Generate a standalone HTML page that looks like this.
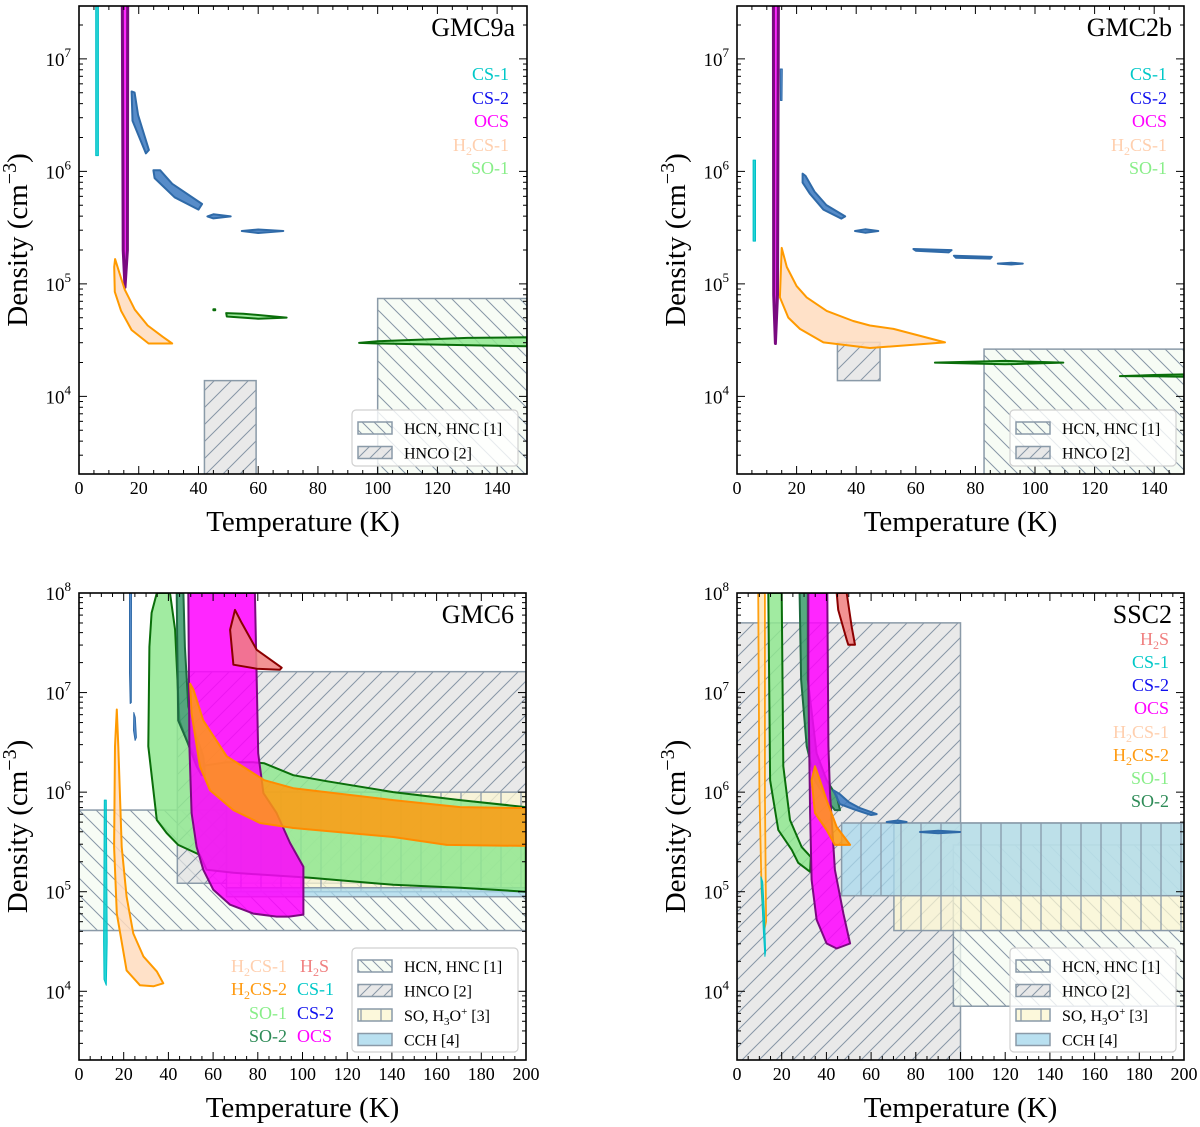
<!DOCTYPE html>
<html><head><meta charset="utf-8"><style>
body{margin:0;background:#fff;}
svg{display:block;font-family:"Liberation Serif","DejaVu Serif",serif;}
</style></head><body>
<svg id="fig" width="1200" height="1127" viewBox="0 0 1200 1127" xmlns="http://www.w3.org/2000/svg">
<defs>
<pattern id="hBack" patternUnits="userSpaceOnUse" width="17" height="17"><path d="M-2,-2 L19,19 M-19,-2 L2,19 M15,-2 L36,19" stroke="#8796a6" stroke-width="1"/></pattern>
<pattern id="hFwd" patternUnits="userSpaceOnUse" width="17" height="17"><path d="M-2,19 L19,-2 M-19,19 L2,-2 M15,19 L36,-2" stroke="#8796a6" stroke-width="1"/></pattern>
<pattern id="hVert" patternUnits="userSpaceOnUse" width="20" height="20"><path d="M1,0 L1,20" stroke="#8796a6" stroke-width="1.2"/></pattern>
<pattern id="hBackS" patternUnits="userSpaceOnUse" width="12" height="12"><path d="M-2,-2 L14,14 M-14,-2 L2,14 M10,-2 L26,14" stroke="#8796a6" stroke-width="1"/></pattern>
<pattern id="hFwdS" patternUnits="userSpaceOnUse" width="12" height="12"><path d="M-2,14 L14,-2 M-14,14 L2,-2 M10,14 L26,-2" stroke="#8796a6" stroke-width="1"/></pattern>
</defs>
</svg>
<script>
// ---------- DATA (temperature K, log10 density) ----------
// Panel GMC9a
const p1CS1 = [[5.6,7.5],[6.5,7.5],[6.5,6.14],[5.6,6.14]];
const p1OCS = [[14.5,7.5],[16.3,7.5],[16.2,5.3],[15.4,4.97],[14.8,5.3]];
const p1CS2a = [[17.6,6.71],[18.6,6.7],[19.8,6.5],[23.4,6.19],[22.4,6.16],[17.9,6.45]];
const p1CS2b = [[24.9,6.01],[27.2,6.01],[31.2,5.89],[41.2,5.71],[40,5.66],[32,5.77],[25.3,5.94]];
const p1CS2c = [[43,5.6],[45,5.618],[50.8,5.6],[45,5.582]];
const p1CS2d = [[54.5,5.47],[60,5.483],[68.4,5.47],[60,5.452]];
const p1H2CS1 = [[12.1,5.22],[11.8,5.15],[12,4.93],[14.1,4.76],[17.6,4.59],[23.3,4.47],[31.2,4.47],[28,4.53],[23,4.63],[18.7,4.77],[15.3,4.95],[13.5,5.1]];
const p1SOdot = [[45,4.775],[45.6,4.775],[45.6,4.765],[45,4.765]];
const p1SOa = [[49.3,4.74],[55,4.735],[69.5,4.70],[60,4.69],[49.5,4.71]];
const p1SOb = [[93.8,4.475],[100,4.49],[130,4.52],[150,4.525],[150,4.445],[120,4.46],[100,4.47]];
const p1HCN = [100,150,3.0,4.87];
const p1HNCO = [42,59.3,3.0,4.14];
// Panel GMC2b
const p2CS1 = [[5.4,6.10],[6.2,6.10],[6.2,5.38],[5.4,5.38]];
const p2CS2s = [[14.5,6.91],[15.2,6.91],[15.1,6.63],[14.6,6.63]];
const p2OCS = [[12.2,7.5],[13.9,7.5],[13.6,4.9],[12.9,4.47],[12.3,4.9]];
const p2CS2a = [[22,5.98],[23,5.96],[26,5.82],[30,5.70],[36.3,5.60],[35,5.58],[29,5.66],[24.5,5.80],[22,5.9]];
const p2CS2b = [[39.6,5.47],[43,5.485],[47.4,5.47],[43,5.455]];
const p2CS2c = [[59.2,5.31],[72,5.30],[71,5.28],[60,5.295]];
const p2CS2d = [[72.8,5.25],[85.5,5.24],[85,5.225],[73.5,5.232]];
const p2CS2e = [[87.5,5.18],[92,5.188],[95.9,5.18],[92,5.172]];
const p2H2CS1 = [[15,5.32],[16.7,5.15],[20,4.98],[23.4,4.88],[30.1,4.76],[39,4.67],[44.6,4.63],[52.5,4.60],[69.8,4.48],[44.6,4.43],[29,4.48],[21.1,4.60],[17.2,4.70],[14.4,4.88]];
const p2SOa = [[66.4,4.30],[90,4.315],[109.5,4.30],[90,4.285]];
const p2SOb = [[128.5,4.18],[140,4.19],[150,4.195],[150,4.175],[140,4.178]];
const p2HCN = [82.9,150,3.0,4.42];
const p2HNCO = [33.7,48,4.14,4.48];
// Panel GMC6
const p3HCN = [0,200,4.61,5.82];
const p3HNCO = [44,200,5.085,7.21];
const p3SOH3O = [66,200,5.0,6.0];
const p3CCH = [66,200,4.95,5.04];
const p3SO1 = [[34.8,8],[40.7,8],[43,7.63],[44.9,6.72],[48.2,6.52],[54.1,6.26],[66,6.3],[78,6.3],[82.9,6.29],[95.9,6.17],[110.8,6.11],[140.6,6.0],[170.5,5.92],[199.9,5.85],[199.9,5.0],[170.5,5.04],[140.6,5.07],[103.4,5.14],[69.1,5.19],[57.1,5.22],[54.1,5.37],[44.4,5.47],[39.2,5.59],[34.8,5.72],[31.0,6.46],[31.5,7.46],[32.5,7.8]];
const p3SO2 = [[43.7,8],[46.7,8],[47.4,7.46],[48.9,6.86],[52.6,6.56],[55.6,6.36],[56.4,6.17],[54.9,6.17],[52.6,6.26],[48.2,6.52],[44.4,6.72],[44,7.46]];
const p3OCS = [[48.9,8],[78.7,8],[79.5,7.13],[80.2,6.39],[82.5,5.99],[88.4,5.79],[94.4,5.49],[100.4,5.25],[100.4,4.77],[94,4.75],[88.4,4.75],[78,4.78],[67.6,4.87],[60.1,5.02],[55.6,5.22],[52.6,5.45],[50.4,5.79],[49.4,6.46]];
const p3H2S = [[69.8,7.83],[67.6,7.63],[69.1,7.28],[79.5,7.24],[89.9,7.23],[90.7,7.25],[79.5,7.43],[72.8,7.70]];
const p3H2CS2 = [[49.7,7.09],[51.2,7.03],[55.6,6.72],[66.1,6.36],[82.9,6.12],[95.9,6.04],[140.6,5.92],[170.5,5.85],[199.9,5.84],[199.9,5.46],[164.5,5.47],[140.6,5.55],[95.9,5.64],[81,5.69],[69.1,5.82],[58.6,6.02],[54.1,6.26],[50.4,6.79]];
const p3H2CS1 = [[16.9,6.83],[16.1,6.46],[15.7,5.45],[16.9,4.78],[21.3,4.21],[27.3,4.06],[33.3,4.05],[37.7,4.08],[34.8,4.2],[28.8,4.35],[24.3,4.58],[21.3,4.95],[19.1,5.45],[17.6,6.46]];
const p3CS1 = [[11.3,5.92],[12.2,5.92],[12.6,4.5],[12.2,4.06],[11.2,4.12],[11.0,4.5]];
const p3CS2a = [[22.6,8],[23.5,8],[23.4,6.9],[22.9,6.89],[22.6,7.2]];
const p3CS2b = [[24.5,6.8],[25.2,6.75],[25.7,6.55],[25.1,6.52],[24.4,6.62]];
// Panel SSC2
const p4HNCO = [0,100,3.0,7.70];
const p4HCN = [96.8,200,3.85,5.47];
const p4SOH3O = [70.2,200,4.61,5.69];
const p4CCH = [46.8,200,4.96,5.69];
const p4H2CS2a = [[9.5,8],[12.5,8],[12.5,6.0],[13.0,4.7],[12.2,4.62],[11.0,5.0],[10.0,6.0]];
const p4CS1 = [[10.7,5.15],[11.5,5.1],[12.2,4.8],[12.8,4.4],[12.5,4.35],[11.8,4.6],[11.2,4.9]];
const p4SO1 = [[14,8],[20,8],[20.7,6.26],[23.7,5.72],[28.9,5.45],[33,5.35],[32.7,5.2],[27.4,5.29],[24.5,5.42],[18.5,5.62],[14.8,6.12]];
const p4SO2 = [[28.0,8],[31.7,8],[31.7,7.13],[35.6,6.39],[40.1,6.12],[44.6,5.96],[46.1,5.82],[43.8,5.82],[40.1,5.92],[34.9,6.12],[31.2,6.46],[28.7,7.13]];
const p4OCS = [[31.9,8],[40.4,8],[40.9,6.46],[41.6,5.99],[43.8,5.22],[47.6,4.78],[50.6,4.48],[44.6,4.43],[40.1,4.48],[35.6,4.72],[33.4,5.12],[32.7,5.79],[31.9,7.13]];
const p4H2CS2b = [[34.9,6.26],[33.4,6.12],[34.9,5.79],[40.1,5.62],[43.8,5.47],[50.6,5.47],[44.6,5.65],[40.1,5.92],[37.1,6.12]];
const p4CS2a = [[43.1,6.02],[46,5.98],[50,5.9],[55,5.84],[62.5,5.78],[60,5.77],[52,5.83],[46,5.88]];
const p4CS2b = [[67,5.70],[72,5.715],[75.9,5.70],[72,5.69]];
const p4CS2c = [[81.9,5.60],[90,5.612],[99.8,5.60],[90,5.588]];
const p4H2S = [[44.6,8],[45.3,7.83],[49.1,7.53],[49.8,7.48],[52.8,7.48],[51.3,7.66],[49.1,8]];
// tick labels
const xTicks150 = [0,20,40,60,80,100,120,140];
const xTicks200 = [0,20,40,60,80,100,120,140,160,180,200];
const yTicksTop = [4,5,6,7];
const yTicksBot = [4,5,6,7,8];

// ---------- RENDER ----------
const NS = "http://www.w3.org/2000/svg";
const fig = document.getElementById('fig');
function mk(tag, attrs, parent){ const e=document.createElementNS(NS,tag); for(const k in attrs) e.setAttribute(k,attrs[k]); (parent||fig).appendChild(e); return e; }

const C = {
 cs1:{fill:"#00cccc",stroke:"#00c0c8"}, cs2:{fill:"#3a78c0",stroke:"#2f6aa8"}, ocs:{fill:"#ff00ff",stroke:"#7a0a80"},
 h2cs1:{fill:"#ffdcbe",stroke:"#ff9a00"}, h2cs2:{fill:"#ff9a10",stroke:"#ff8c00"}, h2cs2l:{fill:"#ffe6b8",stroke:"#ffa010"},
 so1:{fill:"#90e890",stroke:"#0a6e0a"}, so2:{fill:"#3a9a6a",stroke:"#1e6a40"}, h2s:{fill:"#f08080",stroke:"#8b0000"}
};

function panel(cfg){
 const {L,R,T,B,xmax,lTop,lBot,id}=cfg;
 const g = mk('g',{});
 
 
 const X = t => L + t/xmax*(R-L);
 const Y = l => T + (lTop-l)/(lTop-lBot)*(B-T);
 const clipId = 'clip-'+id;
 const cp = mk('clipPath',{id:clipId},g); mk('rect',{x:L,y:T,width:R-L,height:B-T},cp);
 const plot = mk('g',{'clip-path':`url(#${clipId})`},g);
 const box = (b, fill, pat, name) => {
   const x0=X(b[0]), x1=X(b[1]), y0=Y(b[3]), y1=Y(b[2]);
   const r=mk('rect',{x:x0,y:y0,width:x1-x0,height:y1-y0,fill:fill,'fill-opacity':0.75},plot);
   
   
   if(pat) mk('rect',{x:x0,y:y0,width:x1-x0,height:y1-y0,fill:`url(#${pat})`},plot);
   mk('rect',{x:x0,y:y0,width:x1-x0,height:y1-y0,fill:'none',stroke:'#8a9aa8','stroke-width':1.5},plot);
 };
 const poly = (pts, col, name, sw) => {
   const p = mk('polygon',{points:pts.map(q=>X(q[0]).toFixed(1)+','+Y(q[1]).toFixed(1)).join(' '),fill:col.fill,'fill-opacity':0.85,stroke:col.stroke,'stroke-width':sw||2,'stroke-linejoin':'round'},plot);
   
   
 };
 cfg.draw(box, poly);
 mk('rect',{x:L,y:T,width:R-L,height:B-T,fill:'none',stroke:'#000','stroke-width':1.6},g);
 for(let t=0;t<=xmax;t+=5){
   const len = t%20===0?8:4;
   mk('line',{x1:X(t),x2:X(t),y1:B,y2:B-len,stroke:'#000','stroke-width':1},g);
   mk('line',{x1:X(t),x2:X(t),y1:T,y2:T+len,stroke:'#000','stroke-width':1},g);
 }
 cfg.xt.forEach(t=>{ const tx=mk('text',{x:X(t),y:B+20,'font-size':18,'text-anchor':'middle'},g); tx.textContent=t;
     });
 for(let d=Math.floor(lBot);d<=Math.ceil(lTop);d++){
   for(let k=1;k<10;k++){
     const l=d+Math.log10(k); if(l<lBot||l>lTop) continue;
     const len=k===1?8:4;
     mk('line',{x1:L,x2:L+len,y1:Y(l),y2:Y(l),stroke:'#000','stroke-width':1},g);
     mk('line',{x1:R,x2:R-len,y1:Y(l),y2:Y(l),stroke:'#000','stroke-width':1},g);
   }
 }
 cfg.yt.forEach(l=>{ const tx=mk('text',{x:L-8,y:Y(l)+7,'font-size':19,'text-anchor':'end'},g);
    
   tx.appendChild(document.createTextNode('10'));
   const s=mk('tspan',{'font-size':13,dy:-9},tx); s.textContent=l; });
 const xt=mk('text',{x:(L+R)/2,y:B+57,'font-size':29,'text-anchor':'middle'},g); xt.textContent='Temperature (K)';
  
 const yc=(T+B)/2, yx=L-52;
 const yt=mk('text',{x:yx,y:yc,'font-size':29,'text-anchor':'middle',transform:`rotate(-90 ${yx} ${yc})`},g);
  
 yt.appendChild(document.createTextNode('Density (cm'));
 const sp=mk('tspan',{'font-size':20,dy:-11},yt); sp.textContent='−3';
 const sp2=mk('tspan',{dy:11},yt); sp2.textContent=')';
 const ti=mk('text',{x:R-12,y:T+30,'font-size':26,'text-anchor':'end'},g); ti.textContent=cfg.title;
  
 cfg.labels.forEach(lb=>{
   const t=mk('text',{x:lb[1],y:lb[2],'font-size':18,'text-anchor':lb[4]||'end',fill:lb[3]},g);
    
   if(lb[0].startsWith('H2')){ t.appendChild(document.createTextNode('H')); const s=mk('tspan',{'font-size':12,dy:4},t); s.textContent='2'; const r=mk('tspan',{dy:-4},t); r.textContent=lb[0].slice(2);}
   else t.textContent=lb[0];
 });
 const lg=cfg.legend; const lgG=mk('g',{},g);
  
 mk('rect',{x:lg.x,y:lg.y,width:lg.w,height:lg.h,rx:4,fill:'#fff','fill-opacity':0.8,stroke:'#d0d0d0','stroke-width':1.2},lgG);
 lg.rows.forEach((r,i)=>{
   const yy=lg.y+18+i*24.5;
   mk('rect',{x:lg.x+6,y:yy-6,width:34,height:12,fill:r.fill,'fill-opacity':0.8},lgG);
   if(r.pat) mk('rect',{x:lg.x+6,y:yy-6,width:34,height:12,fill:`url(#${r.pat})`},lgG);
   mk('rect',{x:lg.x+6,y:yy-6,width:34,height:12,fill:'none',stroke:'#8a9aa8','stroke-width':1.5},lgG);
   const t=mk('text',{x:lg.x+52,y:yy+6,'font-size':16},lgG);
   if(r.sup){ t.appendChild(document.createTextNode('SO, H')); const a=mk('tspan',{'font-size':11,dy:4},t); a.textContent='3'; const b=mk('tspan',{dy:-4},t); b.textContent='O'; const c=mk('tspan',{'font-size':11,dy:-6},t); c.textContent='+'; const d=mk('tspan',{dy:6},t); d.textContent=' [3]'; }
   else t.textContent=r.label;
 });
}

const HCNc="#f4fbf1", HNCOc="#e2e2e2", SOc="#fbf6d2", CCHc="#a8d8ec";

panel({id:'gmc9a',L:79,R:527,T:6,B:474,xmax:150,lTop:7.47,lBot:3.31,xt:xTicks150,yt:yTicksTop,title:'GMC9a',
 draw:(box,poly)=>{
  box(p1HCN,HCNc,'hBack','hcn-region'); box(p1HNCO,HNCOc,'hFwd','hnco-region');
  poly(p1CS1,C.cs1,'cs1-contour',1); poly(p1OCS,C.ocs,'ocs-contour',3); poly(p1CS2a,C.cs2,'cs2-contour'); poly(p1CS2b,C.cs2,'cs2-contour');
  poly(p1CS2c,C.cs2,'cs2-contour'); poly(p1CS2d,C.cs2,'cs2-contour'); poly(p1H2CS1,C.h2cs1,'h2cs1-contour');
  poly(p1SOdot,C.so1,'so1-contour'); poly(p1SOa,C.so1,'so1-contour'); poly(p1SOb,C.so1,'so1-contour');
 },
 labels:[['CS-1',509,80,'#00c8c8'],['CS-2',509,104,'#1010ee'],['OCS',509,127,'#ff00ff'],['H2CS-1',509,151,'#ffcfae'],['SO-1',509,174,'#88ee88']],
 legend:{x:352,y:410,w:166,h:56,rows:[{label:'HCN, HNC [1]',fill:HCNc,pat:'hBackS'},{label:'HNCO [2]',fill:HNCOc,pat:'hFwdS'}]}
});
panel({id:'gmc2b',L:737,R:1184,T:6,B:474,xmax:150,lTop:7.47,lBot:3.31,xt:xTicks150,yt:yTicksTop,title:'GMC2b',
 draw:(box,poly)=>{
  box(p2HCN,HCNc,'hBack','hcn-region'); box(p2HNCO,HNCOc,'hFwd','hnco-region');
  poly(p2CS1,C.cs1,'cs1-contour',1); poly(p2CS2s,C.cs2,'cs2-contour',1); poly(p2OCS,C.ocs,'ocs-contour',3);
  poly(p2CS2a,C.cs2,'cs2-contour'); poly(p2CS2b,C.cs2,'cs2-contour'); poly(p2CS2c,C.cs2,'cs2-contour'); poly(p2CS2d,C.cs2,'cs2-contour'); poly(p2CS2e,C.cs2,'cs2-contour');
  poly(p2H2CS1,C.h2cs1,'h2cs1-contour'); poly(p2SOa,C.so1,'so1-contour'); poly(p2SOb,C.so1,'so1-contour');
 },
 labels:[['CS-1',1167,80,'#00c8c8'],['CS-2',1167,104,'#1010ee'],['OCS',1167,127,'#ff00ff'],['H2CS-1',1167,151,'#ffcfae'],['SO-1',1167,174,'#88ee88']],
 legend:{x:1010,y:410,w:166,h:56,rows:[{label:'HCN, HNC [1]',fill:HCNc,pat:'hBackS'},{label:'HNCO [2]',fill:HNCOc,pat:'hFwdS'}]}
});
const legRows4=[{label:'HCN, HNC [1]',fill:HCNc,pat:'hBackS'},{label:'HNCO [2]',fill:HNCOc,pat:'hFwdS'},{label:'SO',fill:SOc,pat:'hVert',sup:true},{label:'CCH [4]',fill:CCHc}];
panel({id:'gmc6',L:79,R:526,T:593,B:1060,xmax:200,lTop:8,lBot:3.31,xt:xTicks200,yt:yTicksBot,title:'GMC6',
 draw:(box,poly)=>{
  box(p3HCN,HCNc,'hBack','hcn-region'); box(p3HNCO,HNCOc,'hFwd','hnco-region'); box(p3SOH3O,SOc,'hVert','so-h3o-region'); box(p3CCH,CCHc,null,'cch-region');
  poly(p3SO1,C.so1,'so1-contour'); poly(p3SO2,C.so2,'so2-contour'); poly(p3OCS,C.ocs,'ocs-contour'); poly(p3H2S,C.h2s,'h2s-contour');
  poly(p3H2CS2,C.h2cs2,'h2cs2-contour'); poly(p3H2CS1,C.h2cs1,'h2cs1-contour'); poly(p3CS1,C.cs1,'cs1-contour',1); poly(p3CS2a,C.cs2,'cs2-contour',1); poly(p3CS2b,C.cs2,'cs2-contour',1);
 },
 labels:[['H2CS-1',287,972,'#ffcfae'],['H2CS-2',287,995,'#ff9a10'],['SO-1',287,1019,'#88ee88'],['SO-2',287,1042,'#2e8b57'],
         ['H2S',300,972,'#f08080','start'],['CS-1',297,995,'#00c8c8','start'],['CS-2',297,1019,'#1010ee','start'],['OCS',297,1042,'#ff00ff','start']],
 legend:{x:352,y:948,w:166,h:104,rows:legRows4}
});
panel({id:'ssc2',L:737,R:1184,T:593,B:1060,xmax:200,lTop:8,lBot:3.31,xt:xTicks200,yt:yTicksBot,title:'SSC2',
 draw:(box,poly)=>{
  box(p4HNCO,HNCOc,'hFwd','hnco-region'); box(p4HCN,HCNc,'hBack','hcn-region'); box(p4SOH3O,SOc,'hVert','so-h3o-region'); box(p4CCH,CCHc,'hVert','cch-region');
  poly(p4H2CS2a,C.h2cs2l,'h2cs2-contour',1.8); poly(p4CS1,C.cs1,'cs1-contour',1); poly(p4SO1,C.so1,'so1-contour'); poly(p4SO2,C.so2,'so2-contour');
  poly(p4OCS,C.ocs,'ocs-contour'); poly(p4H2CS2b,C.h2cs2,'h2cs2-contour'); poly(p4CS2a,C.cs2,'cs2-contour'); poly(p4CS2b,C.cs2,'cs2-contour'); poly(p4CS2c,C.cs2,'cs2-contour'); poly(p4H2S,C.h2s,'h2s-contour');
 },
 labels:[['H2S',1169,645,'#f08080'],['CS-1',1169,668,'#00c8c8'],['CS-2',1169,691,'#1010ee'],['OCS',1169,714,'#ff00ff'],['H2CS-1',1169,738,'#ffcfae'],['H2CS-2',1169,761,'#ff9a10'],['SO-1',1169,784,'#88ee88'],['SO-2',1169,807,'#2e8b57']],
 legend:{x:1010,y:948,w:166,h:104,rows:legRows4}
});
</script>
</body></html>
